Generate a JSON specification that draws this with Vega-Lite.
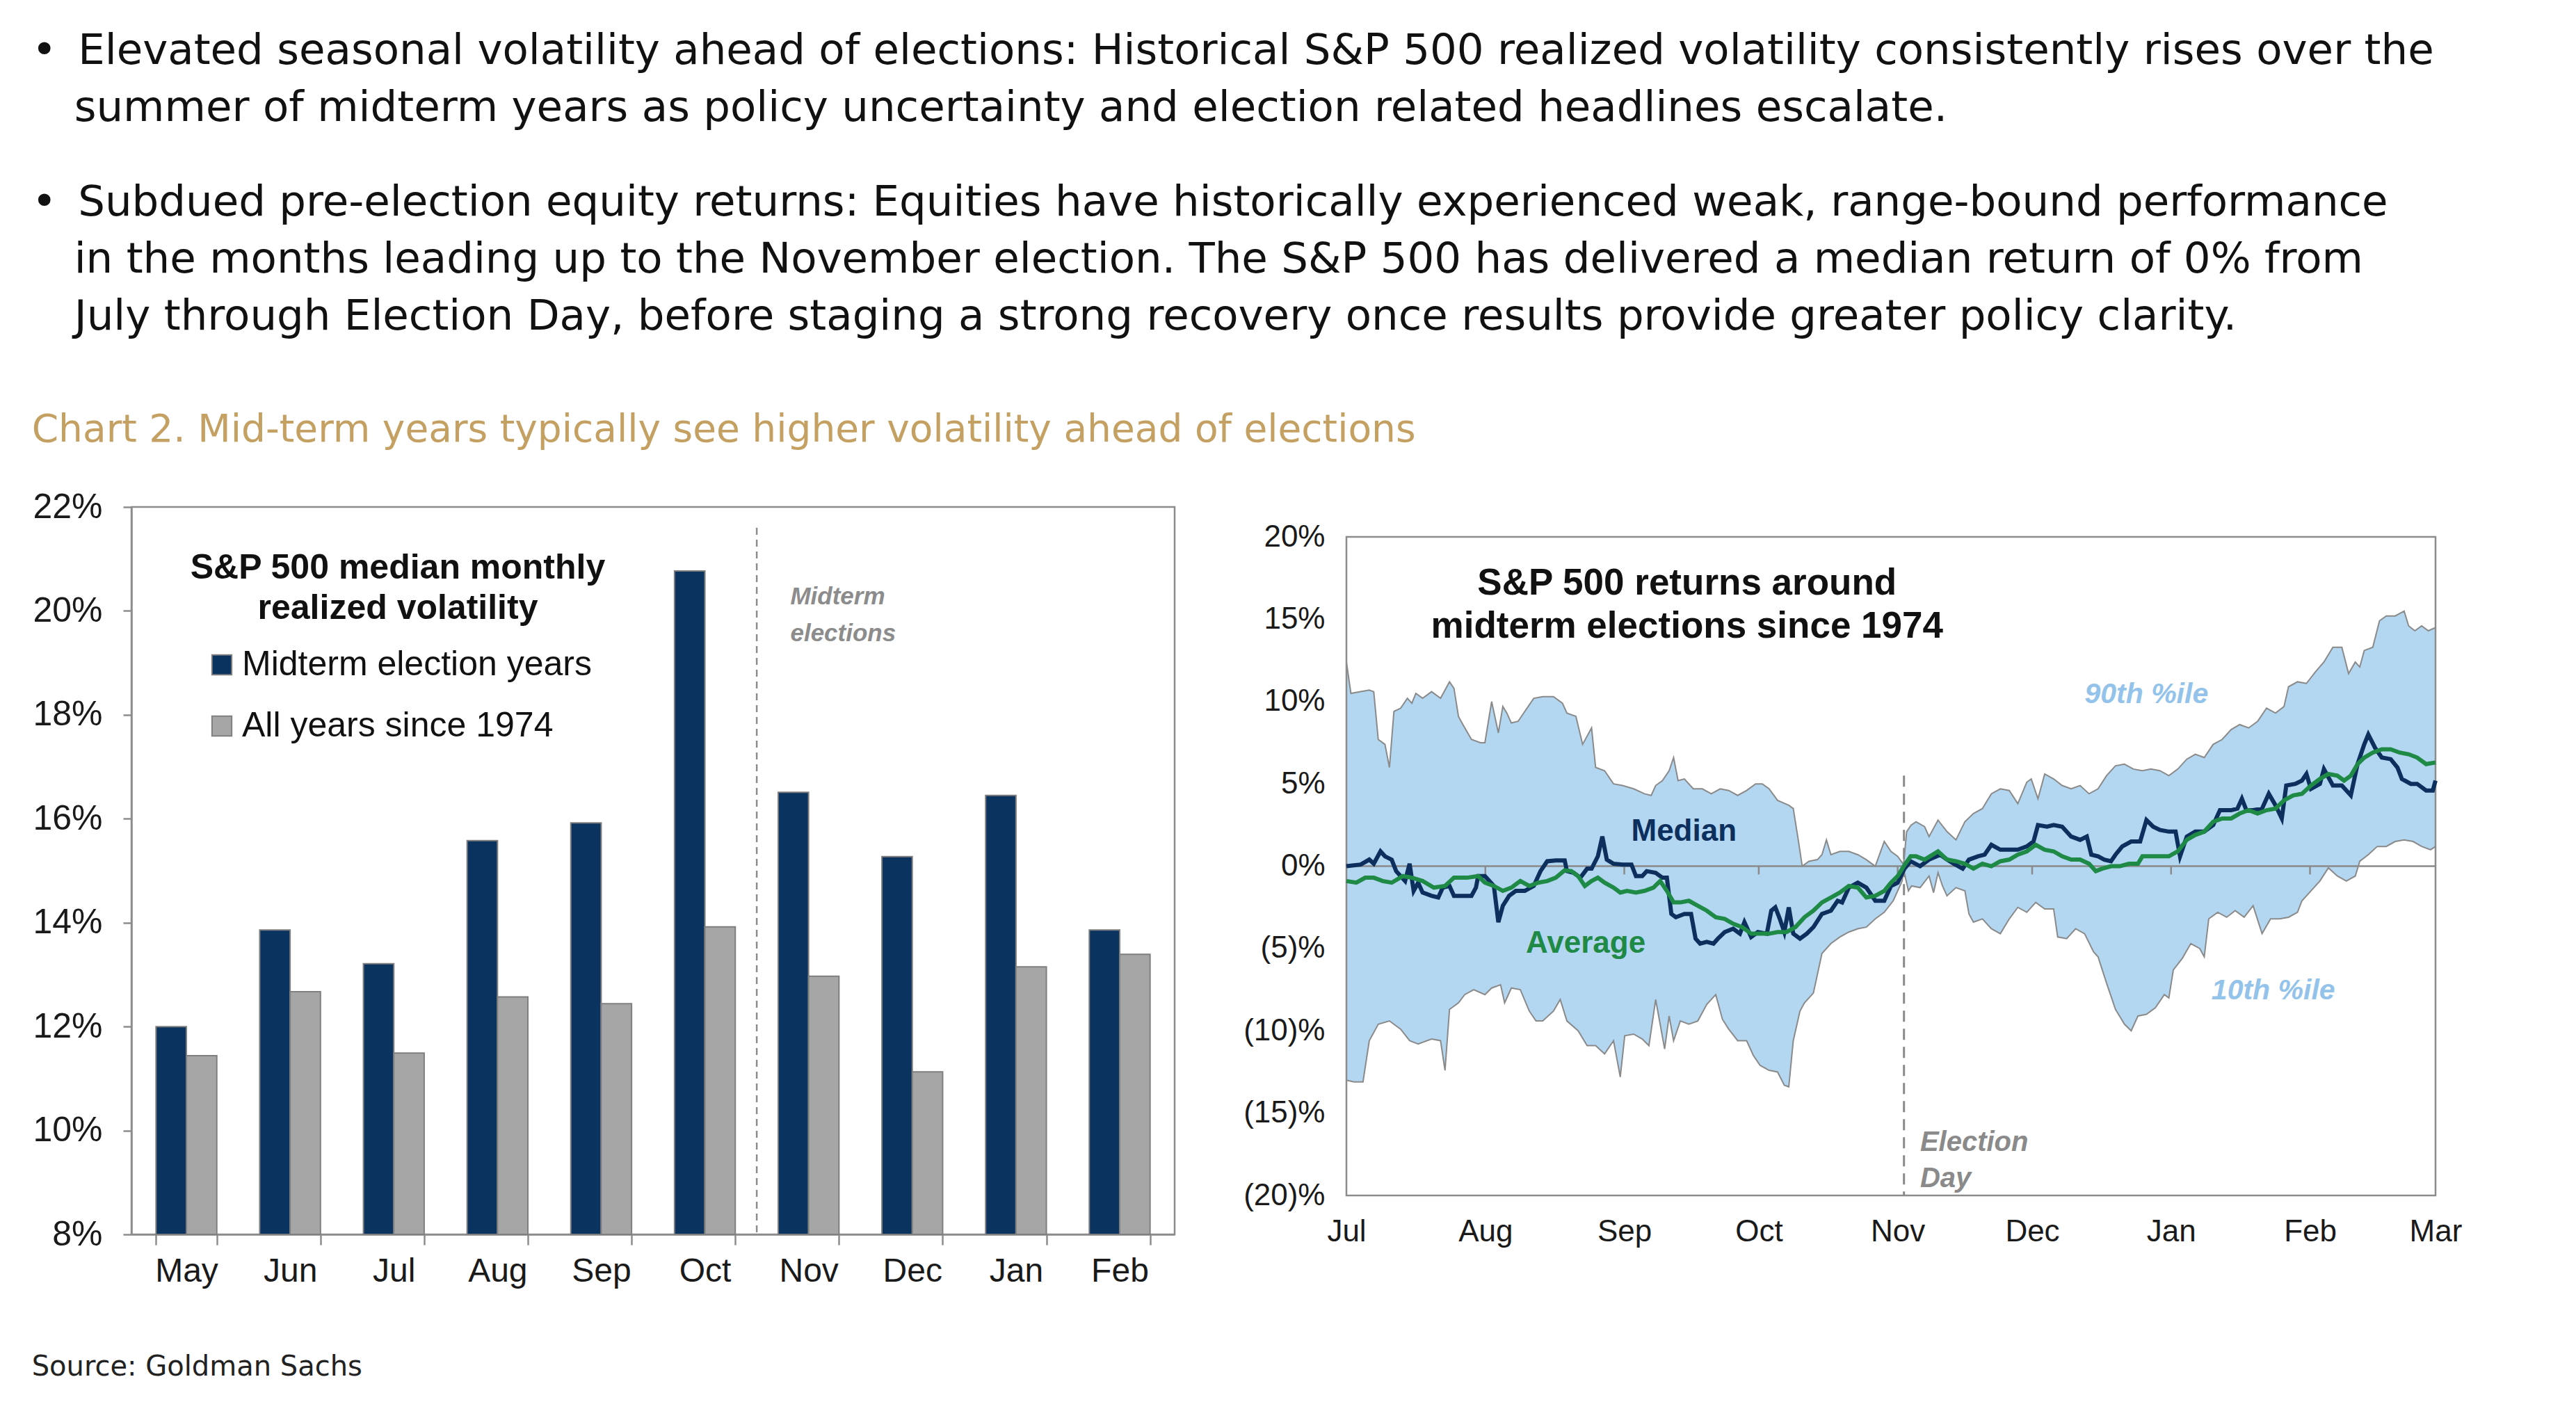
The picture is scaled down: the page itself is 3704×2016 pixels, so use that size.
{
  "$schema": "https://vega.github.io/schema/vega-lite/v6.json",
  "background": "white",
  "padding": {"left": 45, "top": 42, "right": 10, "bottom": 5},
  "title": {
    "text": [
      "•\u2002Elevated seasonal volatility ahead of elections: Historical S&P 500 realized volatility consistently rises over the",
      "\u200b\u2003summer of midterm years as policy uncertainty and election related headlines escalate."
    ],
    "subtitle": [
      "•\u2002Subdued pre-election equity returns: Equities have historically experienced weak, range-bound performance",
      "\u200b\u2003in the months leading up to the November election. The S&P 500 has delivered a median return of 0% from",
      "\u200b\u2003July through Election Day, before staging a strong recovery once results provide greater policy clarity."
    ],
    "anchor": "start",
    "font": "DejaVu Sans",
    "fontSize": 61,
    "fontWeight": "normal",
    "color": "#111111",
    "lineHeight": 82,
    "subtitleFont": "DejaVu Sans",
    "subtitleFontSize": 61,
    "subtitleColor": "#111111",
    "subtitleLineHeight": 82,
    "subtitlePadding": 75,
    "offset": 104
  },
  "datasets": {
    "vol": [
      {"month": "May", "series": "Midterm election years", "vol": 12.0},
      {"month": "May", "series": "All years since 1974", "vol": 11.44},
      {"month": "Jun", "series": "Midterm election years", "vol": 13.86},
      {"month": "Jun", "series": "All years since 1974", "vol": 12.67},
      {"month": "Jul", "series": "Midterm election years", "vol": 13.21},
      {"month": "Jul", "series": "All years since 1974", "vol": 11.49},
      {"month": "Aug", "series": "Midterm election years", "vol": 15.58},
      {"month": "Aug", "series": "All years since 1974", "vol": 12.57},
      {"month": "Sep", "series": "Midterm election years", "vol": 15.92},
      {"month": "Sep", "series": "All years since 1974", "vol": 12.44},
      {"month": "Oct", "series": "Midterm election years", "vol": 20.77},
      {"month": "Oct", "series": "All years since 1974", "vol": 13.92},
      {"month": "Nov", "series": "Midterm election years", "vol": 16.51},
      {"month": "Nov", "series": "All years since 1974", "vol": 12.97},
      {"month": "Dec", "series": "Midterm election years", "vol": 15.27},
      {"month": "Dec", "series": "All years since 1974", "vol": 11.13},
      {"month": "Jan", "series": "Midterm election years", "vol": 16.45},
      {"month": "Jan", "series": "All years since 1974", "vol": 13.15},
      {"month": "Feb", "series": "Midterm election years", "vol": 13.86},
      {"month": "Feb", "series": "All years since 1974", "vol": 13.39}
    ],
    "months": [
      {"d": 31}, {"d": 62}, {"d": 92}, {"d": 123}, {"d": 153}, {"d": 184}, {"d": 215}
    ],
    "p90": [
      {"d": 0, "v": 12.4}, {"d": 1, "v": 10.5}, {"d": 5.1, "v": 10.7}, {"d": 6.1, "v": 10.6}, {"d": 7.1, "v": 7.7},
      {"d": 8.6, "v": 7.4}, {"d": 9.6, "v": 6.0}, {"d": 10.6, "v": 9.4}, {"d": 12.1, "v": 9.6}, {"d": 13.6, "v": 10.2},
      {"d": 14.6, "v": 9.9}, {"d": 15.5, "v": 10.5}, {"d": 17, "v": 10.2}, {"d": 19, "v": 10.6}, {"d": 21, "v": 10.2},
      {"d": 23, "v": 11.2}, {"d": 24, "v": 10.8}, {"d": 25, "v": 9.1}, {"d": 26, "v": 8.6}, {"d": 27.9, "v": 7.7},
      {"d": 29.9, "v": 7.5}, {"d": 30.9, "v": 7.5}, {"d": 32.4, "v": 10.0}, {"d": 33.9, "v": 8.1}, {"d": 34.9, "v": 9.7},
      {"d": 35.8, "v": 9.3}, {"d": 36.8, "v": 8.7}, {"d": 38.3, "v": 8.8}, {"d": 39.8, "v": 9.4}, {"d": 41.8, "v": 10.2},
      {"d": 43.8, "v": 10.3}, {"d": 46.2, "v": 10.3}, {"d": 48.2, "v": 9.9}, {"d": 49.2, "v": 9.3}, {"d": 51.2, "v": 9.1},
      {"d": 52.7, "v": 7.4}, {"d": 54.7, "v": 8.4}, {"d": 55.6, "v": 6.0}, {"d": 57.6, "v": 5.8}, {"d": 59.6, "v": 5.0},
      {"d": 61.6, "v": 4.9}, {"d": 64.1, "v": 4.7}, {"d": 66.5, "v": 4.4}, {"d": 68, "v": 4.3}, {"d": 69, "v": 4.9},
      {"d": 70.5, "v": 5.2}, {"d": 72, "v": 5.8}, {"d": 73, "v": 6.6}, {"d": 74, "v": 5.2}, {"d": 75.4, "v": 5.3},
      {"d": 77.4, "v": 4.7}, {"d": 79.4, "v": 4.7}, {"d": 81.4, "v": 4.4}, {"d": 83.4, "v": 4.7}, {"d": 85.3, "v": 4.6},
      {"d": 87.3, "v": 4.3}, {"d": 89.3, "v": 4.6}, {"d": 91.3, "v": 5.0}, {"d": 92.8, "v": 5.0}, {"d": 94.3, "v": 4.7},
      {"d": 96.2, "v": 4.0}, {"d": 98.7, "v": 3.7}, {"d": 99.7, "v": 3.5}, {"d": 100.7, "v": 1.8}, {"d": 101.7, "v": 0.0},
      {"d": 103.2, "v": 0.3}, {"d": 105.1, "v": 0.4}, {"d": 106.1, "v": 0.7}, {"d": 107.1, "v": 1.6}, {"d": 108.1, "v": 0.7},
      {"d": 110.1, "v": 0.9}, {"d": 112.1, "v": 0.9}, {"d": 114.1, "v": 0.7}, {"d": 116, "v": 0.4}, {"d": 118, "v": 0.0},
      {"d": 120, "v": 1.5}, {"d": 121.5, "v": 0.9}, {"d": 123, "v": 0.6}, {"d": 124.3, "v": 0.1}, {"d": 125, "v": 2.1},
      {"d": 126, "v": 2.5}, {"d": 127.1, "v": 2.7}, {"d": 129, "v": 2.4}, {"d": 130, "v": 1.8}, {"d": 132, "v": 2.8},
      {"d": 134, "v": 2.1}, {"d": 136, "v": 1.6}, {"d": 138, "v": 2.7}, {"d": 139.9, "v": 3.2}, {"d": 141.9, "v": 3.5},
      {"d": 143.9, "v": 4.4}, {"d": 145.9, "v": 4.7}, {"d": 147.9, "v": 4.6}, {"d": 149.8, "v": 3.8}, {"d": 151.8, "v": 5.1},
      {"d": 152.8, "v": 5.3}, {"d": 154.3, "v": 4.1}, {"d": 155.8, "v": 5.6}, {"d": 157.8, "v": 5.3}, {"d": 159.7, "v": 4.9},
      {"d": 161.7, "v": 4.7}, {"d": 163.7, "v": 4.9}, {"d": 165.7, "v": 4.4}, {"d": 167.7, "v": 4.7}, {"d": 169.6, "v": 5.5},
      {"d": 171.6, "v": 6.1}, {"d": 173.6, "v": 6.2}, {"d": 175.6, "v": 5.9}, {"d": 177.6, "v": 5.8}, {"d": 179.5, "v": 5.9},
      {"d": 181.5, "v": 5.8}, {"d": 183.5, "v": 5.5}, {"d": 185.5, "v": 5.9}, {"d": 187.5, "v": 6.5}, {"d": 189.4, "v": 6.8},
      {"d": 191.4, "v": 6.6}, {"d": 193.4, "v": 7.4}, {"d": 195.4, "v": 7.7}, {"d": 197.4, "v": 8.3}, {"d": 199.3, "v": 8.6},
      {"d": 201.3, "v": 8.4}, {"d": 203.3, "v": 8.8}, {"d": 205.3, "v": 9.6}, {"d": 207.3, "v": 9.3}, {"d": 209.2, "v": 9.7},
      {"d": 210.2, "v": 10.9}, {"d": 212.2, "v": 11.2}, {"d": 214.2, "v": 11.1}, {"d": 216.2, "v": 11.8}, {"d": 218.1, "v": 12.4},
      {"d": 220.1, "v": 13.3}, {"d": 222.1, "v": 13.3}, {"d": 223.6, "v": 11.7}, {"d": 225.1, "v": 12.4}, {"d": 226.1, "v": 12.1},
      {"d": 227.1, "v": 13.1}, {"d": 229, "v": 13.3}, {"d": 230.5, "v": 14.9}, {"d": 232, "v": 15.2}, {"d": 234, "v": 15.2},
      {"d": 236, "v": 15.5}, {"d": 237, "v": 14.6}, {"d": 238.4, "v": 14.3}, {"d": 239.9, "v": 14.6}, {"d": 241.4, "v": 14.3},
      {"d": 243, "v": 14.5}
    ],
    "p10": [
      {"d": 0, "v": -13.0}, {"d": 1.7, "v": -13.1}, {"d": 3.7, "v": -13.1}, {"d": 5.1, "v": -10.6}, {"d": 7.1, "v": -9.6},
      {"d": 9.6, "v": -9.4}, {"d": 12.1, "v": -9.9}, {"d": 14.1, "v": -10.6}, {"d": 16, "v": -10.8}, {"d": 19, "v": -10.5},
      {"d": 21, "v": -10.6}, {"d": 22, "v": -12.4}, {"d": 23, "v": -8.7}, {"d": 25, "v": -8.3}, {"d": 26.4, "v": -7.8},
      {"d": 28.4, "v": -7.5}, {"d": 30.9, "v": -7.8}, {"d": 32.4, "v": -7.4}, {"d": 34.4, "v": -7.2}, {"d": 35.3, "v": -8.3},
      {"d": 36.8, "v": -7.4}, {"d": 38.8, "v": -7.5}, {"d": 40.8, "v": -8.8}, {"d": 42.3, "v": -9.4}, {"d": 43.8, "v": -9.4},
      {"d": 46.2, "v": -8.8}, {"d": 47.7, "v": -8.1}, {"d": 49.2, "v": -9.4}, {"d": 51.7, "v": -10.0}, {"d": 53.7, "v": -10.9},
      {"d": 55.6, "v": -10.9}, {"d": 57.6, "v": -11.4}, {"d": 59.6, "v": -10.6}, {"d": 61.1, "v": -12.8}, {"d": 62.1, "v": -10.3},
      {"d": 64.1, "v": -10.2}, {"d": 66, "v": -10.5}, {"d": 67.5, "v": -10.9}, {"d": 69, "v": -8.1}, {"d": 70, "v": -9.6},
      {"d": 71, "v": -11.1}, {"d": 72, "v": -9.1}, {"d": 73, "v": -10.6}, {"d": 74.5, "v": -9.4}, {"d": 76.4, "v": -9.6},
      {"d": 78.4, "v": -9.4}, {"d": 80.4, "v": -8.4}, {"d": 82.4, "v": -7.8}, {"d": 83.9, "v": -9.3}, {"d": 85.3, "v": -9.9},
      {"d": 87.3, "v": -10.6}, {"d": 89.3, "v": -10.6}, {"d": 90.8, "v": -11.5}, {"d": 92.3, "v": -12.1}, {"d": 94.3, "v": -12.4},
      {"d": 96.2, "v": -12.5}, {"d": 97.7, "v": -13.3}, {"d": 98.7, "v": -13.4}, {"d": 99.7, "v": -10.6}, {"d": 101.2, "v": -8.8},
      {"d": 102.2, "v": -8.3}, {"d": 104.2, "v": -7.7}, {"d": 106.1, "v": -5.3}, {"d": 108.1, "v": -4.7}, {"d": 110.1, "v": -4.3},
      {"d": 112.1, "v": -4.0}, {"d": 114.1, "v": -3.8}, {"d": 116, "v": -3.7}, {"d": 118, "v": -3.2}, {"d": 120, "v": -2.8},
      {"d": 122, "v": -2.1}, {"d": 124, "v": -0.9}, {"d": 124.3, "v": -0.2}, {"d": 125.4, "v": -1.5}, {"d": 126.1, "v": -1.2},
      {"d": 128, "v": -1.3}, {"d": 130, "v": -0.6}, {"d": 131, "v": -1.6}, {"d": 132, "v": -0.4}, {"d": 133, "v": -1.2},
      {"d": 134, "v": -1.8}, {"d": 136, "v": -1.3}, {"d": 138, "v": -1.5}, {"d": 138.9, "v": -2.9}, {"d": 139.9, "v": -3.4},
      {"d": 141.9, "v": -3.2}, {"d": 143.9, "v": -3.8}, {"d": 145.9, "v": -4.1}, {"d": 147.9, "v": -3.2}, {"d": 149.8, "v": -2.5},
      {"d": 151.8, "v": -2.8}, {"d": 153.8, "v": -2.2}, {"d": 155.8, "v": -2.6}, {"d": 157.8, "v": -2.6}, {"d": 158.7, "v": -4.3},
      {"d": 160.7, "v": -4.4}, {"d": 162.7, "v": -3.8}, {"d": 164.7, "v": -4.1}, {"d": 166.7, "v": -5.2}, {"d": 167.7, "v": -5.5},
      {"d": 169.6, "v": -7.1}, {"d": 171.6, "v": -8.7}, {"d": 173.6, "v": -9.6}, {"d": 175.1, "v": -10.0}, {"d": 176.6, "v": -9.1},
      {"d": 178.5, "v": -9.0}, {"d": 180.5, "v": -8.6}, {"d": 182.5, "v": -7.8}, {"d": 183.5, "v": -8.0}, {"d": 184.5, "v": -6.3},
      {"d": 186.5, "v": -5.6}, {"d": 188.4, "v": -4.7}, {"d": 190.4, "v": -5.0}, {"d": 191.4, "v": -5.5}, {"d": 192.4, "v": -3.2},
      {"d": 194.4, "v": -2.8}, {"d": 196.4, "v": -3.1}, {"d": 198.3, "v": -2.7}, {"d": 200.3, "v": -3.1}, {"d": 202.3, "v": -2.4},
      {"d": 204.3, "v": -4.1}, {"d": 206.2, "v": -3.2}, {"d": 208.2, "v": -3.2}, {"d": 210.2, "v": -3.1}, {"d": 212.2, "v": -2.8},
      {"d": 213.2, "v": -2.1}, {"d": 215.2, "v": -1.5}, {"d": 217.2, "v": -0.9}, {"d": 219.1, "v": -0.1}, {"d": 221.1, "v": -0.6},
      {"d": 223.1, "v": -0.9}, {"d": 225.1, "v": -0.6}, {"d": 226.1, "v": 0.3}, {"d": 228, "v": 0.7}, {"d": 230, "v": 1.2},
      {"d": 232, "v": 1.2}, {"d": 234, "v": 1.5}, {"d": 236, "v": 1.6}, {"d": 238, "v": 1.5}, {"d": 239.9, "v": 1.2},
      {"d": 241.9, "v": 1.0}, {"d": 243, "v": 1.2}
    ],
    "med": [
      {"d": 0, "v": 0}, {"d": 3.2, "v": 0.1}, {"d": 5.1, "v": 0.4}, {"d": 6.1, "v": 0.15}, {"d": 7.6, "v": 0.9},
      {"d": 8.6, "v": 0.6}, {"d": 10.1, "v": 0.4}, {"d": 11.1, "v": -0.3}, {"d": 13.1, "v": -0.9}, {"d": 14.1, "v": 0.15},
      {"d": 15, "v": -1.5}, {"d": 16, "v": -1.0}, {"d": 17, "v": -1.6}, {"d": 19, "v": -1.8}, {"d": 20.5, "v": -1.9},
      {"d": 21.5, "v": -1.3}, {"d": 23, "v": -1.2}, {"d": 24, "v": -1.8}, {"d": 26, "v": -1.8}, {"d": 27.9, "v": -1.8},
      {"d": 28.9, "v": -1.3}, {"d": 29.4, "v": -0.6}, {"d": 30.9, "v": -0.6}, {"d": 32.9, "v": -1.2}, {"d": 33.9, "v": -3.4},
      {"d": 34.9, "v": -2.4}, {"d": 36.3, "v": -1.8}, {"d": 37.8, "v": -1.5}, {"d": 39.8, "v": -1.5}, {"d": 41.8, "v": -1.2},
      {"d": 43.3, "v": -0.3}, {"d": 44.8, "v": 0.3}, {"d": 46.7, "v": 0.35}, {"d": 48.7, "v": 0.35}, {"d": 49.2, "v": -0.3},
      {"d": 50.7, "v": -0.4}, {"d": 52.2, "v": -0.7}, {"d": 53.7, "v": -0.15}, {"d": 54.7, "v": -0.15}, {"d": 56.1, "v": 0.6},
      {"d": 57.1, "v": 1.8}, {"d": 58.1, "v": 0.4}, {"d": 59.6, "v": 0.15}, {"d": 61.6, "v": 0.1}, {"d": 63.6, "v": 0.1},
      {"d": 64.6, "v": -0.6}, {"d": 66, "v": -0.6}, {"d": 67, "v": -0.3}, {"d": 69, "v": -0.4}, {"d": 70.5, "v": -0.7},
      {"d": 71.5, "v": -0.7}, {"d": 72.5, "v": -2.9}, {"d": 73.5, "v": -3.1}, {"d": 75.4, "v": -2.9}, {"d": 76.9, "v": -2.9},
      {"d": 77.9, "v": -4.4}, {"d": 78.9, "v": -4.7}, {"d": 80.4, "v": -4.6}, {"d": 81.9, "v": -4.7}, {"d": 82.9, "v": -4.4},
      {"d": 84.4, "v": -4.0}, {"d": 86.3, "v": -3.8}, {"d": 87.8, "v": -4.1}, {"d": 88.8, "v": -3.4}, {"d": 90.3, "v": -4.3},
      {"d": 91.8, "v": -4.0}, {"d": 93.8, "v": -4.1}, {"d": 94.8, "v": -2.7}, {"d": 95.7, "v": -2.5}, {"d": 96.7, "v": -3.2},
      {"d": 97.7, "v": -4.0}, {"d": 98.7, "v": -2.5}, {"d": 99.7, "v": -4.1}, {"d": 101.2, "v": -4.4}, {"d": 102.7, "v": -4.1},
      {"d": 104.2, "v": -3.7}, {"d": 106.1, "v": -2.9}, {"d": 108.1, "v": -2.7}, {"d": 109.6, "v": -2.1}, {"d": 110.6, "v": -2.2},
      {"d": 112.1, "v": -1.3}, {"d": 114.1, "v": -1.0}, {"d": 116, "v": -1.3}, {"d": 118, "v": -2.1}, {"d": 120, "v": -2.1},
      {"d": 121.5, "v": -1.2}, {"d": 123, "v": -1.0}, {"d": 124.5, "v": -0.15}, {"d": 125.9, "v": 0.3}, {"d": 128, "v": 0},
      {"d": 130, "v": 0.4}, {"d": 132.5, "v": 0.7}, {"d": 134, "v": 0.4}, {"d": 135.5, "v": 0.15}, {"d": 137.5, "v": -0.15},
      {"d": 138.9, "v": 0.4}, {"d": 140.9, "v": 0.6}, {"d": 142.4, "v": 0.7}, {"d": 143.9, "v": 1.3}, {"d": 145.9, "v": 1.0},
      {"d": 147.9, "v": 1.0}, {"d": 149.8, "v": 1.0}, {"d": 151.8, "v": 1.2}, {"d": 153.3, "v": 1.5}, {"d": 154.3, "v": 2.5},
      {"d": 156.3, "v": 2.4}, {"d": 157.8, "v": 2.5}, {"d": 159.7, "v": 2.4}, {"d": 161.7, "v": 1.8}, {"d": 163.7, "v": 1.6},
      {"d": 165.2, "v": 1.8}, {"d": 166.2, "v": 0.7}, {"d": 167.7, "v": 0.6}, {"d": 169.1, "v": 0.4}, {"d": 170.6, "v": 0.3},
      {"d": 171.6, "v": 0.7}, {"d": 173.1, "v": 1.2}, {"d": 175.1, "v": 1.5}, {"d": 177.1, "v": 1.5}, {"d": 178.5, "v": 2.8},
      {"d": 180, "v": 2.4}, {"d": 181.5, "v": 2.2}, {"d": 183.5, "v": 2.1}, {"d": 185, "v": 2.1}, {"d": 186, "v": 0.6},
      {"d": 187.5, "v": 1.8}, {"d": 189.4, "v": 2.1}, {"d": 191.4, "v": 2.1}, {"d": 193.4, "v": 2.5}, {"d": 194.9, "v": 3.4},
      {"d": 197.4, "v": 3.4}, {"d": 198.8, "v": 3.5}, {"d": 199.8, "v": 4.1}, {"d": 200.8, "v": 3.4}, {"d": 202.3, "v": 3.4},
      {"d": 204.3, "v": 3.5}, {"d": 205.8, "v": 4.4}, {"d": 207.3, "v": 3.7}, {"d": 208.7, "v": 2.9}, {"d": 209.7, "v": 4.9},
      {"d": 211.7, "v": 5.0}, {"d": 213.2, "v": 5.2}, {"d": 214.2, "v": 5.6}, {"d": 215.2, "v": 4.7}, {"d": 217.2, "v": 5.0},
      {"d": 218.1, "v": 5.9}, {"d": 220.1, "v": 4.9}, {"d": 222.1, "v": 4.9}, {"d": 224.1, "v": 4.3}, {"d": 225.6, "v": 6.2},
      {"d": 227.1, "v": 7.4}, {"d": 228, "v": 8.0}, {"d": 229.5, "v": 7.2}, {"d": 231, "v": 6.6}, {"d": 233, "v": 6.5},
      {"d": 234.5, "v": 6.0}, {"d": 235.5, "v": 5.3}, {"d": 237.5, "v": 5.0}, {"d": 238.9, "v": 5.0}, {"d": 240.9, "v": 4.6},
      {"d": 242.4, "v": 4.6}, {"d": 243, "v": 5.2}
    ],
    "avg": [
      {"d": 0, "v": -0.9}, {"d": 2.2, "v": -1.0}, {"d": 4.2, "v": -0.7}, {"d": 6.1, "v": -0.7}, {"d": 8.1, "v": -0.9},
      {"d": 10.1, "v": -1.0}, {"d": 12.6, "v": -0.6}, {"d": 14.6, "v": -0.7}, {"d": 17, "v": -0.9}, {"d": 19.5, "v": -1.3},
      {"d": 22, "v": -1.2}, {"d": 24, "v": -0.7}, {"d": 26.9, "v": -0.7}, {"d": 29.4, "v": -0.6}, {"d": 30.9, "v": -1.0},
      {"d": 32.9, "v": -1.2}, {"d": 34.9, "v": -1.5}, {"d": 36.8, "v": -1.3}, {"d": 38.8, "v": -0.9}, {"d": 40.8, "v": -1.2},
      {"d": 42.8, "v": -1.0}, {"d": 44.8, "v": -0.9}, {"d": 46.7, "v": -0.7}, {"d": 48.7, "v": -0.25}, {"d": 50.2, "v": -0.3},
      {"d": 51.7, "v": -0.6}, {"d": 53.2, "v": -1.2}, {"d": 54.7, "v": -0.9}, {"d": 56.1, "v": -0.7}, {"d": 57.6, "v": -1.0},
      {"d": 59.6, "v": -1.3}, {"d": 61.1, "v": -1.6}, {"d": 62.6, "v": -1.5}, {"d": 64.6, "v": -1.6}, {"d": 66.5, "v": -1.5},
      {"d": 68.5, "v": -1.3}, {"d": 70, "v": -0.9}, {"d": 71.5, "v": -1.5}, {"d": 73, "v": -2.2}, {"d": 74.5, "v": -2.2},
      {"d": 76.4, "v": -2.1}, {"d": 78.4, "v": -2.4}, {"d": 80.4, "v": -2.7}, {"d": 82.4, "v": -3.1}, {"d": 84.4, "v": -3.2},
      {"d": 86.3, "v": -3.5}, {"d": 88.3, "v": -3.7}, {"d": 90.3, "v": -4.1}, {"d": 91.8, "v": -4.1}, {"d": 94.3, "v": -4.1},
      {"d": 96.2, "v": -4.0}, {"d": 98.2, "v": -4.0}, {"d": 100.2, "v": -3.7}, {"d": 102.2, "v": -3.1}, {"d": 104.2, "v": -2.7},
      {"d": 106.1, "v": -2.2}, {"d": 108.1, "v": -1.9}, {"d": 110.1, "v": -1.6}, {"d": 112.1, "v": -1.2}, {"d": 114.1, "v": -1.3},
      {"d": 116, "v": -1.9}, {"d": 118, "v": -1.8}, {"d": 120, "v": -1.5}, {"d": 121.5, "v": -1.0}, {"d": 123, "v": -0.6},
      {"d": 124.5, "v": 0.06}, {"d": 125.9, "v": 0.6}, {"d": 127.1, "v": 0.6}, {"d": 129, "v": 0.4}, {"d": 132, "v": 0.9},
      {"d": 134, "v": 0.4}, {"d": 136, "v": 0.3}, {"d": 138, "v": 0.15}, {"d": 139.9, "v": -0.15}, {"d": 141.9, "v": 0.15},
      {"d": 143.9, "v": 0}, {"d": 145.9, "v": 0.3}, {"d": 147.9, "v": 0.4}, {"d": 149.8, "v": 0.7}, {"d": 151.8, "v": 0.9},
      {"d": 153.8, "v": 1.3}, {"d": 155.8, "v": 1.0}, {"d": 157.8, "v": 0.9}, {"d": 159.7, "v": 0.6}, {"d": 161.7, "v": 0.4},
      {"d": 163.7, "v": 0.4}, {"d": 165.7, "v": 0.15}, {"d": 167.2, "v": -0.3}, {"d": 168.6, "v": -0.15}, {"d": 170.6, "v": 0},
      {"d": 172.6, "v": 0}, {"d": 174.6, "v": 0.15}, {"d": 176.6, "v": 0.15}, {"d": 177.6, "v": 0.6}, {"d": 179.5, "v": 0.6},
      {"d": 181.5, "v": 0.6}, {"d": 183.5, "v": 0.6}, {"d": 185.5, "v": 0.9}, {"d": 187.5, "v": 1.6}, {"d": 189.4, "v": 1.9},
      {"d": 191.4, "v": 2.1}, {"d": 193.4, "v": 2.7}, {"d": 195.4, "v": 2.9}, {"d": 197.4, "v": 2.9}, {"d": 199.3, "v": 3.2},
      {"d": 201.3, "v": 3.4}, {"d": 203.3, "v": 3.2}, {"d": 205.3, "v": 3.4}, {"d": 207.3, "v": 3.5}, {"d": 209.2, "v": 4.0},
      {"d": 211.2, "v": 4.3}, {"d": 213.2, "v": 4.4}, {"d": 215.2, "v": 4.9}, {"d": 217.2, "v": 5.3}, {"d": 219.1, "v": 5.6},
      {"d": 221.1, "v": 5.5}, {"d": 222.6, "v": 5.2}, {"d": 224.1, "v": 5.5}, {"d": 225.6, "v": 6.2}, {"d": 227.1, "v": 6.6},
      {"d": 229, "v": 6.9}, {"d": 231, "v": 7.1}, {"d": 233, "v": 7.1}, {"d": 235, "v": 6.9}, {"d": 237, "v": 6.8},
      {"d": 238.9, "v": 6.6}, {"d": 240.9, "v": 6.2}, {"d": 243, "v": 6.3}
    ]
  },
  "vconcat": [
    {
      "title": {
        "text": "Chart 2. Mid-term years typically see higher volatility ahead of elections",
        "anchor": "start",
        "font": "DejaVu Sans",
        "fontSize": 55,
        "fontWeight": "normal",
        "color": "#c4a062",
        "offset": 56
      },
      "vconcat": [
        {
          "title": {
            "text": "Source: Goldman Sachs",
            "orient": "bottom",
            "anchor": "start",
            "font": "DejaVu Sans",
            "fontSize": 40,
            "fontWeight": "normal",
            "color": "#222222",
            "offset": 93
          },
          "spacing": 96,
          "hconcat": [
            {
              "width": 1500,
              "height": 1046,
              "layer": [
                {
                  "data": {"name": "vol"},
                  "mark": {"type": "bar", "stroke": "#7f7f7f", "strokeWidth": 2},
                  "encoding": {
                    "x": {
                      "field": "month",
                      "type": "nominal",
                      "sort": ["May", "Jun", "Jul", "Aug", "Sep", "Oct", "Nov", "Dec", "Jan", "Feb"],
                      "scale": {"paddingInner": 0.414, "paddingOuter": 0.237},
                      "axis": {"title": null, "labelAngle": 0, "labelFontSize": 48, "labelPadding": 14, "tickSize": 15, "tickBand": "extent"}
                    },
                    "xOffset": {"field": "series", "sort": ["Midterm election years", "All years since 1974"]},
                    "y": {
                      "field": "vol",
                      "type": "quantitative",
                      "scale": {"domain": [8, 22], "nice": false, "zero": false},
                      "axis": {"title": null, "values": [8, 10, 12, 14, 16, 18, 20, 22], "labelExpr": "datum.value + '%'", "labelFontSize": 50, "tickSize": 12, "labelPadding": 30}
                    },
                    "y2": {"datum": 8},
                    "color": {
                      "field": "series",
                      "type": "nominal",
                      "scale": {"domain": ["Midterm election years", "All years since 1974"], "range": ["#0b3360", "#a6a6a6"]},
                      "legend": {
                        "orient": "none",
                        "legendX": 84,
                        "legendY": 63,
                        "title": ["S&P 500 median monthly", "realized volatility"],
                        "titleFontSize": 50,
                        "titleFontWeight": "bold",
                        "titleColor": "#111111",
                        "titleAlign": "center",
                        "titleAnchor": "middle",
                        "titleLineHeight": 58,
                        "titlePadding": 31,
                        "titleLimit": 1000,
                        "labelFontSize": 50,
                        "labelColor": "#111111",
                        "labelLimit": 1000,
                        "labelOffset": 4,
                        "symbolType": "square",
                        "symbolSize": 800,
                        "symbolStrokeColor": "#7f7f7f",
                        "symbolStrokeWidth": 2,
                        "rowPadding": 38,
                        "padding": 0
                      }
                    }
                  }
                },
                {
                  "data": {"values": [{}]},
                  "mark": {"type": "rule", "strokeDash": [10, 7], "color": "#8c8c8c", "strokeWidth": 2.5},
                  "encoding": {"x": {"datum": "Nov", "bandPosition": -0.353}, "y": {"datum": 21.6}, "y2": {"datum": 8}}
                },
                {
                  "data": {"values": [{}]},
                  "mark": {"type": "text", "text": ["Midterm", "elections"], "align": "left", "baseline": "middle", "fontSize": 35, "fontStyle": "italic", "fontWeight": "bold", "color": "#8c8c8c", "lineHeight": 53},
                  "encoding": {"x": {"datum": "Nov", "bandPosition": 0.2}, "y": {"datum": 20.27}}
                }
              ]
            },
            {
              "width": 1566,
              "height": 990,
              "view": {"stroke": null},
              "layer": [
                {
                  "data": {"name": "p90"},
                  "mark": {"type": "area", "color": "#b3d6f1"},
                  "encoding": {
                    "x": {
                      "field": "d",
                      "type": "quantitative",
                      "scale": {"domain": [0, 243], "nice": false, "zero": false},
                      "axis": {
                        "title": null,
                        "values": [0, 31, 62, 92, 123, 153, 184, 215, 243],
                        "labelExpr": "['Jul','Aug','Sep','Oct','Nov','Dec','Jan','Feb','Mar'][indexof([0,31,62,92,123,153,184,215,243], datum.value)]",
                        "labelFontSize": 44,
                        "labelFlush": false,
                        "labelPadding": 30,
                        "ticks": false,
                        "domain": false
                      }
                    },
                    "y": {
                      "field": "v",
                      "type": "quantitative",
                      "scale": {"domain": [-20, 21.82], "nice": false, "zero": false},
                      "axis": {
                        "title": null,
                        "values": [-20, -15, -10, -5, 0, 5, 10, 15, 20],
                        "labelExpr": "datum.value < 0 ? '(' + (-datum.value) + ')%' : datum.value + '%'",
                        "labelFontSize": 44,
                        "labelPadding": 31,
                        "ticks": false,
                        "domain": false
                      }
                    },
                    "y2": {"datum": -20}
                  }
                },
                {
                  "data": {"name": "p10"},
                  "mark": {"type": "area", "color": "white"},
                  "encoding": {
                    "x": {"field": "d", "type": "quantitative"},
                    "y": {"field": "v", "type": "quantitative"},
                    "y2": {"datum": -20}
                  }
                },
                {
                  "data": {"name": "p90"},
                  "mark": {"type": "line", "color": "#8a8a8a", "strokeWidth": 2},
                  "encoding": {"x": {"field": "d", "type": "quantitative"}, "y": {"field": "v", "type": "quantitative"}}
                },
                {
                  "data": {"name": "p10"},
                  "mark": {"type": "line", "color": "#8a8a8a", "strokeWidth": 2},
                  "encoding": {"x": {"field": "d", "type": "quantitative"}, "y": {"field": "v", "type": "quantitative"}}
                },
                {
                  "data": {"values": [{}]},
                  "mark": {"type": "rect", "fill": "transparent", "stroke": "#8c8c8c", "strokeWidth": 2.5},
                  "encoding": {"x": {"datum": 0}, "x2": {"datum": 243}, "y": {"datum": -20}, "y2": {"datum": 20}}
                },
                {
                  "data": {"values": [{}]},
                  "mark": {"type": "rule", "color": "#8a8a8a", "strokeWidth": 2.5},
                  "encoding": {"x": {"datum": 0}, "x2": {"datum": 243}, "y": {"datum": 0}}
                },
                {
                  "data": {"name": "months"},
                  "mark": {"type": "rule", "color": "#8a8a8a", "strokeWidth": 2.5},
                  "encoding": {"x": {"field": "d", "type": "quantitative"}, "y": {"datum": 0}, "y2": {"datum": -0.5}}
                },
                {
                  "data": {"values": [{}]},
                  "mark": {"type": "rule", "color": "#8a8a8a", "strokeWidth": 3, "strokeDash": [16, 10]},
                  "encoding": {"x": {"datum": 124.4}, "y": {"datum": 5.5}, "y2": {"datum": -20}}
                },
                {
                  "data": {"name": "med"},
                  "mark": {"type": "line", "color": "#0d2f5e", "strokeWidth": 6},
                  "encoding": {"x": {"field": "d", "type": "quantitative"}, "y": {"field": "v", "type": "quantitative"}}
                },
                {
                  "data": {"name": "avg"},
                  "mark": {"type": "line", "color": "#1e8a45", "strokeWidth": 6},
                  "encoding": {"x": {"field": "d", "type": "quantitative"}, "y": {"field": "v", "type": "quantitative"}}
                },
                {
                  "data": {"values": [{}]},
                  "mark": {"type": "text", "text": ["S&P 500 returns around", "midterm elections since 1974"], "align": "center", "baseline": "middle", "fontSize": 53, "fontWeight": "bold", "color": "#111111", "lineHeight": 62},
                  "encoding": {"x": {"datum": 76}, "y": {"datum": 17.17}}
                },
                {
                  "data": {"values": [{}]},
                  "mark": {"type": "text", "text": "Median", "align": "center", "baseline": "middle", "fontSize": 44, "fontWeight": "bold", "color": "#0d2f5e"},
                  "encoding": {"x": {"datum": 75.3}, "y": {"datum": 2.1}}
                },
                {
                  "data": {"values": [{}]},
                  "mark": {"type": "text", "text": "Average", "align": "center", "baseline": "middle", "fontSize": 44, "fontWeight": "bold", "color": "#1e8a45"},
                  "encoding": {"x": {"datum": 53.4}, "y": {"datum": -4.7}}
                },
                {
                  "data": {"values": [{}]},
                  "mark": {"type": "text", "text": "90th %ile", "align": "center", "baseline": "middle", "fontSize": 41, "fontWeight": "bold", "fontStyle": "italic", "color": "#93c3ea"},
                  "encoding": {"x": {"datum": 178.5}, "y": {"datum": 10.4}}
                },
                {
                  "data": {"values": [{}]},
                  "mark": {"type": "text", "text": "10th %ile", "align": "center", "baseline": "middle", "fontSize": 41, "fontWeight": "bold", "fontStyle": "italic", "color": "#93c3ea"},
                  "encoding": {"x": {"datum": 206.8}, "y": {"datum": -7.6}}
                },
                {
                  "data": {"values": [{}]},
                  "mark": {"type": "text", "text": ["Election", "Day"], "align": "left", "baseline": "middle", "fontSize": 40, "fontWeight": "bold", "fontStyle": "italic", "color": "#8a8a8a", "lineHeight": 52},
                  "encoding": {"x": {"datum": 128}, "y": {"datum": -16.8}}
                }
              ]
            }
          ]
        }
      ]
    }
  ],
  "config": {
    "font": "Liberation Sans",
    "view": {"stroke": "#8c8c8c", "strokeWidth": 2.5},
    "axis": {"labelColor": "#1a1a1a", "domainColor": "#8c8c8c", "tickColor": "#8c8c8c", "domainWidth": 2.5, "tickWidth": 2.5, "grid": false}
  }
}
